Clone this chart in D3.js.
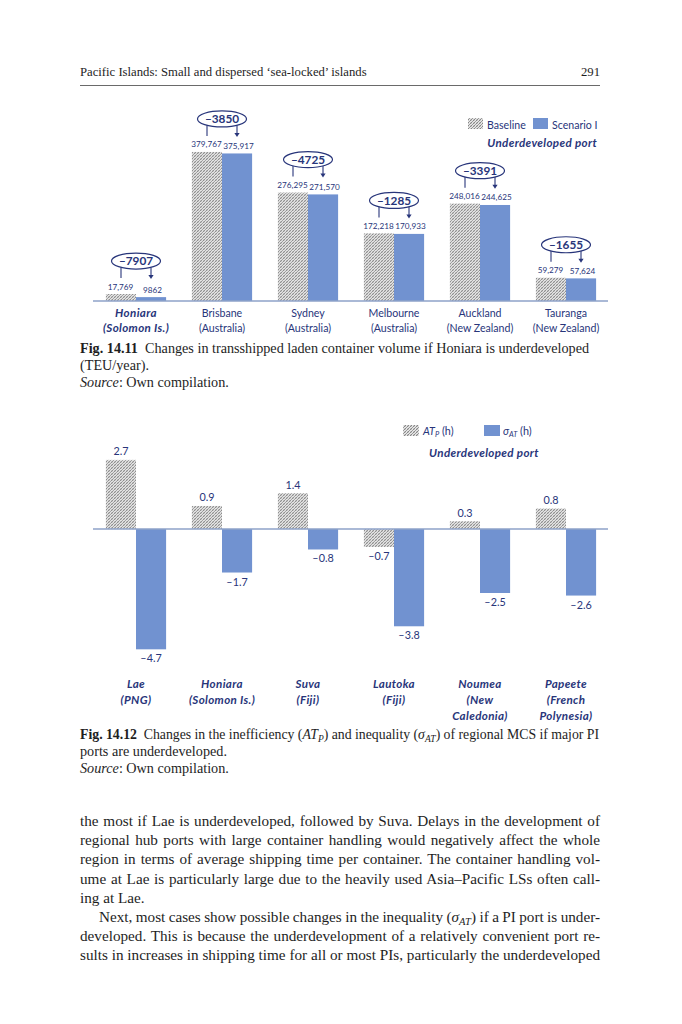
<!DOCTYPE html>
<html><head><meta charset="utf-8">
<script src="https://cdn.jsdelivr.net/npm/d3@7"></script>
<style>body{margin:0;background:#fff} svg{display:block}</style>
</head><body>
<svg id="page" width="682" height="1024"></svg>
<script>
// ---------- DATA ----------
const headerTitle = "Pacific Islands: Small and dispersed \u2018sea-locked\u2019 islands";
const pageNumber = "291";

// Fig 14.11
const ports1 = ["Honiara", "Brisbane", "Sydney", "Melbourne", "Auckland", "Tauranga"];
const countries1 = ["(Solomon Is.)", "(Australia)", "(Australia)", "(Australia)", "(New Zealand)", "(New Zealand)"];
const baseline1 = [17769, 379767, 276295, 172218, 248016, 59279];
const scenario1 = [9862, 375917, 271570, 170933, 244625, 57624];
const underdevelopedPort1 = "Honiara";
const legend1 = ["Baseline", "Scenario I"];

// Fig 14.12
const ports2 = ["Lae", "Honiara", "Suva", "Lautoka", "Noumea", "Papeete"];
const portLines2 = [["Lae", "(PNG)"], ["Honiara", "(Solomon Is.)"], ["Suva", "(Fiji)"], ["Lautoka", "(Fiji)"], ["Noumea", "(New", "Caledonia)"], ["Papeete", "(French", "Polynesia)"]];
const atp2 = [2.7, 0.9, 1.4, -0.7, 0.3, 0.8];
const sigma2 = [-4.7, -1.7, -0.8, -3.8, -2.5, -2.6];

const bodyLines = [
  "the most if Lae is underdeveloped, followed by Suva. Delays in the development of",
  "regional hub ports with large container handling would negatively affect the whole",
  "region in terms of average shipping time per container. The container handling vol-",
  "ume at Lae is particularly large due to the heavily used Asia\u2013Pacific LSs often call-",
  "ing at Lae.",
  "Next, most cases show possible changes in the inequality (\u03c3AT) if a PI port is under-",
  "developed. This is because the underdevelopment of a relatively convenient port re-",
  "sults in increases in shipping time for all or most PIs, particularly the underdeveloped"
];

// ---------- STYLE ----------
const NAVY = "#28357a";
const BLUE = "#7192d0";
const AXIS = "#8ea2c8";
const SANS = "Lato, 'Open Sans', sans-serif";
const SERIF = "'Liberation Serif', 'Times New Roman', serif";
const INK = "#1e1e1e";

const svg = d3.select("#page");
const defs = svg.append("defs");
const pat = defs.append("pattern").attr("id", "hatch").attr("patternUnits", "userSpaceOnUse")
  .attr("width", 3).attr("height", 3);
pat.append("rect").attr("width", 3).attr("height", 3).attr("fill", "#e6e6e6");
pat.append("path").attr("d", "M-1,1 L1,-1 M0,3 L3,0 M2,4 L4,2")
  .attr("stroke", "#6e6e6e").attr("stroke-width", 0.8);
pat.append("path").attr("d", "M0,0 L3,3").attr("stroke", "#b0b0b0").attr("stroke-width", 0.5);

// justify helper (spread spaces)
function justify(t, text, width) {
  const natural = t.node().getComputedTextLength();
  const spaces = (text.match(/[ \u00a0]/g) || []).length;
  if (spaces > 0) t.attr("word-spacing", (width - natural) / spaces);
}

// ---------- HEADER ----------
svg.append("text").attr("x", 80).attr("y", 76).attr("font-family", SERIF).attr("font-size", 12.7)
  .attr("fill", INK).text(headerTitle);
svg.append("text").attr("x", 600).attr("y", 76).attr("text-anchor", "end").attr("font-family", SERIF)
  .attr("font-size", 12.7).attr("fill", INK).text(pageNumber);
svg.append("line").attr("x1", 80).attr("x2", 600).attr("y1", 85.5).attr("y2", 85.5)
  .attr("stroke", "#444").attr("stroke-width", 0.8);

// ---------- FIG 14.11 ----------
const fmt1 = v => v >= 10000 ? d3.format(",")(v) : String(v);
const x1 = d3.scaleBand().domain(ports1).range([93, 609]).paddingInner(0.3).paddingOuter(0.15);
const xs1 = d3.scaleBand().domain(["b", "s"]).range([0, x1.bandwidth()]);
const y1 = d3.scaleLinear().domain([0, 400000]).range([301, 144]);

const g1 = svg.append("g");
const rows1 = ports1.map((p, i) => ({ p, c: countries1[i], b: baseline1[i], s: scenario1[i] }));

const grp1 = g1.selectAll("g.grp").data(rows1).join("g").attr("class", "grp")
  .attr("transform", d => `translate(${x1(d.p)},0)`);
grp1.append("rect").attr("x", xs1("b")).attr("width", xs1.bandwidth())
  .attr("y", d => y1(d.b)).attr("height", d => y1(0) - y1(d.b)).attr("fill", "url(#hatch)");
grp1.append("rect").attr("x", xs1("s")).attr("width", xs1.bandwidth())
  .attr("y", d => y1(d.s)).attr("height", d => y1(0) - y1(d.s)).attr("fill", BLUE);
grp1.append("text").attr("x", xs1("b") + xs1.bandwidth() / 2 - 0.5).attr("y", d => y1(d.b) - 4.5)
  .attr("text-anchor", "middle").attr("font-family", SANS).attr("font-size", 8.2).attr("fill", NAVY)
  .text(d => fmt1(d.b));
grp1.append("text").attr("x", xs1("s") + xs1.bandwidth() / 2 + 1.5).attr("y", d => y1(d.s) - 4.5)
  .attr("text-anchor", "middle").attr("font-family", SANS).attr("font-size", 8.2).attr("fill", NAVY)
  .text(d => fmt1(d.s));

// callouts
const cw = x1.bandwidth() / 2;
const rx = 24.5, ry = 8;
grp1.each(function (d) {
  const g = d3.select(this);
  const cy = y1(d.b) - 33;
  const endY = y1(d.b) - 15;
  const off = 15;
  const yStart = cy + ry * Math.sqrt(1 - (off / rx) ** 2);
  g.append("line").attr("x1", cw - off).attr("x2", cw - off).attr("y1", yStart).attr("y2", endY - 1)
    .attr("stroke", NAVY).attr("stroke-width", 1.1);
  g.append("line").attr("x1", cw + off).attr("x2", cw + off).attr("y1", yStart).attr("y2", endY - 3)
    .attr("stroke", NAVY).attr("stroke-width", 1.1);
  g.append("path").attr("d", `M${cw + off - 2.6},${endY - 4} L${cw + off + 2.6},${endY - 4} L${cw + off},${endY} Z`)
    .attr("fill", NAVY);
  g.append("ellipse").attr("cx", cw).attr("cy", cy).attr("rx", rx).attr("ry", ry)
    .attr("fill", "#fff").attr("stroke", NAVY).attr("stroke-width", 1.2);
  g.append("text").attr("x", cw).attr("y", cy + 4.2).attr("text-anchor", "middle")
    .attr("font-family", SANS).attr("font-weight", 700).attr("font-size", 11.8).attr("fill", NAVY)
    .text("\u2013" + Math.abs(d.s - d.b));
});

// axis line
const ax1 = g1.append("g").attr("transform", `translate(0,${y1(0)})`)
  .call(d3.axisBottom(x1).tickSize(0).tickSizeOuter(0).tickFormat(""));
ax1.select(".domain").attr("stroke", AXIS).attr("stroke-width", 1.5).attr("d", "M93,0H608");

// category labels
const isU = d => d.p === underdevelopedPort1;
[["p", 316.5], ["c", 331.5]].forEach(([k, yy]) => {
  grp1.append("text").attr("x", cw).attr("y", yy).attr("text-anchor", "middle")
    .attr("font-family", SANS).attr("fill", NAVY)
    .attr("font-size", d => isU(d) ? 11.6 : 10.6)
    .attr("letter-spacing", d => isU(d) ? 0.35 : 0)
    .attr("font-weight", d => isU(d) ? 700 : 400)
    .attr("font-style", d => isU(d) ? "italic" : "normal")
    .text(d => d[k]);
});

// legend 1
const lg1 = svg.append("g");
lg1.append("rect").attr("x", 468).attr("y", 118).attr("width", 15).attr("height", 11).attr("fill", "url(#hatch)");
lg1.append("text").attr("x", 487).attr("y", 128.5).attr("font-family", SANS).attr("font-size", 10.6)
  .attr("fill", NAVY).text(legend1[0]);
lg1.append("rect").attr("x", 533).attr("y", 118).attr("width", 15).attr("height", 11).attr("fill", BLUE);
lg1.append("text").attr("x", 552).attr("y", 128.5).attr("font-family", SANS).attr("font-size", 10.6)
  .attr("fill", NAVY).text(legend1[1]);
lg1.append("text").attr("x", 597).attr("y", 146.5).attr("text-anchor", "end").attr("font-family", SANS)
  .attr("font-size", 11.6).attr("letter-spacing", 0.35).attr("font-weight", 700).attr("font-style", "italic").attr("fill", NAVY)
  .text("Underdeveloped port");

// caption
function caption(y, parts, justifyWidth, size) {
  const t = svg.append("text").attr("x", 80).attr("y", y).attr("font-family", SERIF)
    .attr("font-size", size || 14.2).attr("fill", INK);
  parts.forEach(p => {
    const s = t.append("tspan").text(p.t);
    if (p.b) s.attr("font-weight", 700);
    if (p.i) s.attr("font-style", "italic");
    if (p.sub) s.attr("font-size", 9.5).attr("dy", 3);
    if (p.up) s.attr("dy", -3);
  });
  if (justifyWidth) justify(t, parts.map(p => p.t).join(""), justifyWidth);
  return t;
}
caption(353, [{ t: "Fig. 14.11", b: 1 }, { t: "\u00a0 Changes in transshipped laden container volume if Honiara is underdeveloped" }]);
caption(370, [{ t: "(TEU/year)." }]);
caption(387, [{ t: "Source", i: 1 }, { t: ": Own compilation." }]);

// ---------- FIG 14.12 ----------
const x2 = d3.scaleBand().domain(ports2).range([93, 609]).paddingInner(0.3).paddingOuter(0.15);
const xs2 = d3.scaleBand().domain(["a", "s"]).range([0, x2.bandwidth()]);
const y2 = d3.scaleLinear().domain([-5, 3]).range([657, 452.2]);
const rows2 = ports2.map((p, i) => ({ p, lines: portLines2[i], a: atp2[i], s: sigma2[i] }));
const g2 = svg.append("g");
const grp2 = g2.selectAll("g.grp").data(rows2).join("g").attr("class", "grp")
  .attr("transform", d => `translate(${x2(d.p)},0)`);
const fmt2 = v => (v < 0 ? "\u2013" : "") + d3.format(".1f")(Math.abs(v));
[["a", "url(#hatch)"], ["s", BLUE]].forEach(([k, fill]) => {
  grp2.append("rect").attr("x", xs2(k)).attr("width", xs2.bandwidth())
    .attr("y", d => y2(Math.max(0, d[k]))).attr("height", d => Math.abs(y2(d[k]) - y2(0)))
    .attr("fill", fill);
  grp2.append("text").attr("x", xs2(k) + xs2.bandwidth() / 2)
    .attr("y", d => d[k] >= 0 ? y2(d[k]) - 4.5 : y2(d[k]) + 13)
    .attr("text-anchor", "middle").attr("font-family", SANS).attr("font-size", 10.8).attr("fill", NAVY)
    .text(d => fmt2(d[k]));
});
const ax2 = g2.append("g").attr("transform", `translate(0,${y2(0)})`)
  .call(d3.axisBottom(x2).tickSize(0).tickSizeOuter(0).tickFormat(""));
ax2.select(".domain").attr("stroke", AXIS).attr("stroke-width", 1.5).attr("d", "M93,0H608");

grp2.each(function (d) {
  const g = d3.select(this);
  d.lines.forEach((ln, j) => {
    g.append("text").attr("x", x2.bandwidth() / 2).attr("y", 688 + j * 16).attr("text-anchor", "middle")
      .attr("font-family", SANS).attr("font-size", 11.6).attr("letter-spacing", 0.35)
      .attr("font-weight", 700).attr("font-style", "italic")
      .attr("fill", NAVY).text(ln);
  });
});

// legend 2
const lg2 = svg.append("g").attr("font-family", SANS).attr("font-size", 10.8).attr("fill", NAVY);
lg2.append("rect").attr("x", 403).attr("y", 425).attr("width", 16).attr("height", 11).attr("fill", "url(#hatch)");
const l2a = lg2.append("text").attr("x", 423).attr("y", 435);
l2a.append("tspan").attr("font-style", "italic").text("AT");
l2a.append("tspan").attr("font-style", "italic").attr("font-size", 7.5).attr("dy", 2).text("P");
l2a.append("tspan").attr("dy", -2).text(" (h)");
lg2.append("rect").attr("x", 484).attr("y", 425).attr("width", 16).attr("height", 11).attr("fill", BLUE);
const l2b = lg2.append("text").attr("x", 503).attr("y", 435);
l2b.append("tspan").attr("font-style", "italic").text("\u03c3");
l2b.append("tspan").attr("font-style", "italic").attr("font-size", 7.5).attr("dy", 2).text("AT");
l2b.append("tspan").attr("dy", -2).text(" (h)");
lg2.append("text").attr("x", 484).attr("y", 457).attr("text-anchor", "middle").attr("font-weight", 700)
  .attr("font-size", 11.6).attr("letter-spacing", 0.35)
  .attr("font-style", "italic").text("Underdeveloped port");

// caption 14.12
caption(739, [{ t: "Fig. 14.12", b: 1 }, { t: "\u00a0 Changes in the inefficiency (" }, { t: "AT", i: 1 },
  { t: "P", i: 1, sub: 1 }, { t: ") and inequality (", up: 1 }, { t: "\u03c3", i: 1 }, { t: "AT", i: 1, sub: 1 },
  { t: ") of regional MCS if major PI", up: 1 }], 519, 13.8);
caption(756, [{ t: "ports are underdeveloped." }]);
caption(773, [{ t: "Source", i: 1 }, { t: ": Own compilation." }]);

// ---------- BODY TEXT ----------
const bodyTop = 826, lead = 19.2, left = 80, right = 600;
bodyLines.forEach((ln, i) => {
  const indent = i === 5 ? 19 : 0;
  const t = svg.append("text").attr("x", left + indent).attr("y", bodyTop + i * lead)
    .attr("font-family", SERIF).attr("font-size", 15.2).attr("fill", INK);
  if (ln.includes("\u03c3AT")) {
    const [a, b] = ln.split("\u03c3AT");
    t.append("tspan").text(a);
    t.append("tspan").attr("font-style", "italic").text("\u03c3");
    t.append("tspan").attr("font-style", "italic").attr("font-size", 10.5).attr("dy", 3).text("AT");
    t.append("tspan").attr("dy", -3).text(b);
  } else {
    t.text(ln);
  }
  if (i !== 4) justify(t, ln, right - left - indent);
});
</script>
</body></html>
